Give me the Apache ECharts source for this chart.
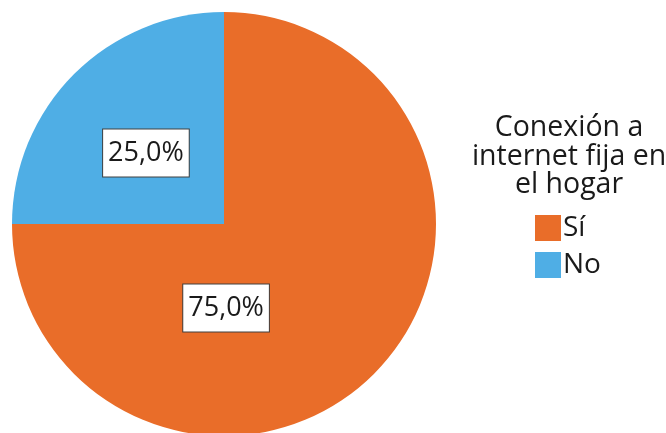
<!DOCTYPE html>
<html><head><meta charset="utf-8">
<script src="https://cdn.jsdelivr.net/npm/echarts@6/dist/echarts.min.js"></script>
<style>html,body{margin:0;padding:0;background:#fff}#c{width:666px;height:433px}</style>
</head><body><div id="c"></div>
<script>
const categories = ['Sí', 'No'];
const values = [75.0, 25.0];
const colors = ['#E96D29', '#4FAEE5'];
const legendTitle = 'Conexión a\ninternet fija en\nel hogar';
const labelOffsets = [[-75, 7], [-1, 6]];

const chart = echarts.init(document.getElementById('c'));
chart.setOption({
  animation: false,
  textStyle: { fontFamily: 'Open Sans' },
  title: {
    text: legendTitle,
    left: 564, top: 109, textAlign: 'center',
    textStyle: { fontFamily: 'Open Sans', fontSize: 28.5, fontWeight: 'normal', color: '#1a1a1a', lineHeight: 28.5 }
  },
  legend: {
    orient: 'vertical', left: 530, top: 209,
    itemWidth: 26, itemHeight: 26, itemGap: 9,
    icon: 'rect',
    textStyle: { fontFamily: 'Open Sans', fontSize: 28, color: '#1a1a1a', padding: [0, 0, 0, -3] },
    data: categories
  },
  series: [{
    type: 'pie',
    center: [224, 224], radius: 212,
    startAngle: 90, clockwise: true,
    label: {
      position: 'inside',
      formatter: p => p.value.toFixed(1).replace('.', ',') + '%',
      fontFamily: 'Open Sans', fontSize: 27, color: '#1a1a1a',
      backgroundColor: '#fff', borderColor: '#404040', borderWidth: 1,
      padding: [11, 5, 9, 5]
    },
    labelLine: { show: false },
    emphasis: { disabled: true },
    data: categories.map((c, i) => ({
      name: c, value: values[i],
      itemStyle: { color: colors[i] },
      label: { offset: labelOffsets[i] }
    }))
  }]
});
</script></body></html>
